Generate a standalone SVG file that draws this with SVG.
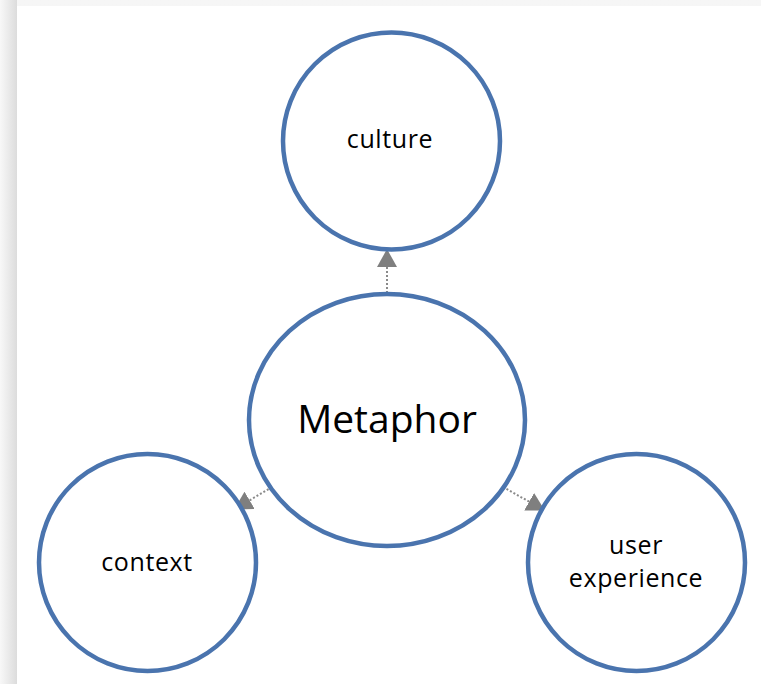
<svg xmlns="http://www.w3.org/2000/svg" width="761" height="684" viewBox="0 0 761 684">
<defs>
<linearGradient id="gl" x1="0" y1="0" x2="1" y2="0"><stop offset="0" stop-color="#f8f8f8"/><stop offset="1" stop-color="#dcdcdc"/></linearGradient>
<linearGradient id="gt" x1="0" y1="0" x2="0" y2="1"><stop offset="0" stop-color="#f6f6f6"/><stop offset="1" stop-color="#e4e4e4"/></linearGradient>
<marker id="ah" viewBox="0 0 18 20" refX="17" refY="10" markerWidth="18" markerHeight="20" markerUnits="userSpaceOnUse" orient="auto"><path d="M0,0 L18,10 L0,20 Z" fill="#7f7f7f"/></marker>
<style>
.node{fill:#fff;stroke:#4a74ae;stroke-width:4.5}
.lbl{font-family:"Open Sans","Noto Sans",sans-serif;font-size:25px;letter-spacing:0.6px;fill:#000;text-anchor:middle}
.big{font-family:"Open Sans","Noto Sans",sans-serif;font-size:39px;fill:#000;text-anchor:middle}
.conn{stroke:#8a8a8a;stroke-width:2;stroke-dasharray:2 2;fill:none}
</style>
</defs>
<rect x="0" y="0" width="761" height="684" fill="url(#gt)"/>
<rect x="0" y="0" width="17" height="684" fill="url(#gl)"/>
<rect x="17" y="6" width="744" height="678" fill="#fff"/>
<g id="connectors">
<line class="conn" x1="387" y1="293" x2="387" y2="250" marker-end="url(#ah)"/>
<line class="conn" x1="272" y1="487" x2="235" y2="509" marker-end="url(#ah)"/>
<line class="conn" x1="503" y1="487" x2="544" y2="510" marker-end="url(#ah)"/>
</g>
<g id="culture"><circle class="node" cx="391.5" cy="141" r="108.5"/><text class="lbl" x="390" y="148">culture</text></g>
<g id="metaphor"><ellipse class="node" cx="387" cy="420" rx="138" ry="126"/><text class="big" x="387" y="433">Metaphor</text></g>
<g id="context"><circle class="node" cx="147.5" cy="562.5" r="108.5"/><text class="lbl" x="147" y="571">context</text></g>
<g id="user-experience"><circle class="node" cx="636.5" cy="562.5" r="108.5"/><text class="lbl" x="636" y="554">user</text><text class="lbl" x="636" y="587">experience</text></g>
</svg>
